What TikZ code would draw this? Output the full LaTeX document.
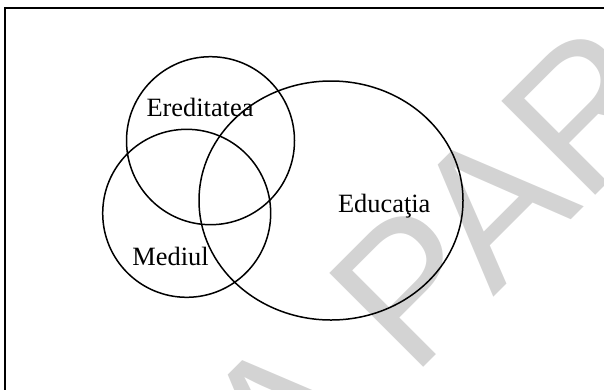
\documentclass[tikz,border=0pt]{standalone}
\usepackage{fontspec}
\setmainfont{Liberation Serif}
\newfontfamily\wmfont{Liberation Sans}
\definecolor{wmgray}{RGB}{211,211,211}
\tikzset{
  venn/.style={draw=black, line width=1.5pt, fill=none},
  frameline/.style={draw=black, line width=2.2pt},
  lbl/.style={anchor=base, inner sep=0pt, font=\fontsize{26.4}{30}\selectfont},
  wmark/.style={anchor=base west, inner sep=0pt, rotate=45, text=wmgray, font=\wmfont\fontsize{193}{193}\selectfont}
}
\begin{document}
\begin{tikzpicture}[x=1pt,y=-1pt]
\useasboundingbox (0,0) rectangle (604,389);
\begin{scope}
  \clip (0,0) rectangle (604,389);
  \node[wmark] (wm) at (283.5,507.5) {A PAR};
  \draw[frameline] (5,400) -- (5,8) -- (620,8);
  \draw[venn] (210.5,140.7) circle (84);
  \draw[venn] (186.7,213.3) circle (84);
  \draw[venn] (331,200.5) ellipse [x radius=132, y radius=119.5];
\end{scope}
\node[lbl] (ered) at (200,116.7) {Ereditatea};
\node[lbl] (med) at (170.5,265) {Mediul};
\node[lbl] (edu) at (384.2,212.7) {Educaţia};
\end{tikzpicture}
\end{document}
